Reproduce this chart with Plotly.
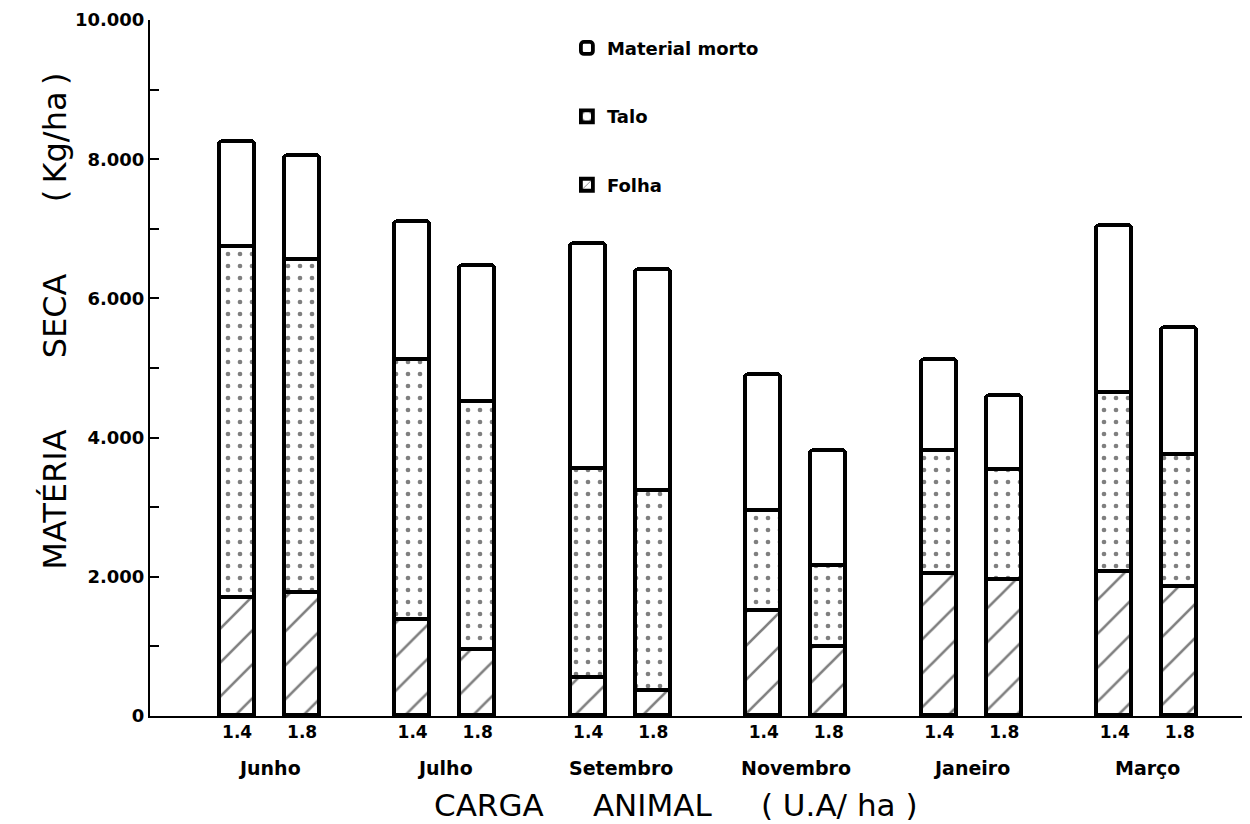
import numpy as np
import plotly.graph_objects as go

months = ["Junho", "Julho", "Setembro", "Novembro", "Janeiro", "Março"]
cargas = ["1.4", "1.8"]
# cumulative tops (kg/ha), order: month x carga
folha = [1700, 1770, 1380, 950, 550, 360, 1510, 990, 2040, 1950, 2070, 1850]
talo_top = [6740, 6550, 5110, 4510, 3550, 3230, 2950, 2160, 3810, 3530, 4640, 3750]
total_top = [8250, 8050, 7100, 6470, 6780, 6410, 4900, 3810, 5110, 4600, 7040, 5570]

folha = np.array(folha)
talo = np.array(talo_top) - folha
morto = np.array(total_top) - np.array(talo_top)

group_step = 2.7
xpos = np.array([g * group_step + j for g in range(len(months)) for j in range(len(cargas))])
xlabels = [c for _ in months for c in cargas]
FONT = "DejaVu Sans"
NB = "\u00a0"
TH = "\u2009"

fig = go.Figure()
common = dict(x=xpos, width=0.54, marker_line_color="black", marker_line_width=3.8)
fig.add_trace(go.Bar(name="Folha", y=folha, legendrank=3, legendgroup="c",
                     marker=dict(color="white", pattern=dict(shape="/", fgcolor="black", bgcolor="white",
                                                            size=24, solidity=0.11)), **common))
fig.add_trace(go.Bar(name="Talo", y=talo, legendrank=2, legendgroup="b",
                     marker=dict(color="white", pattern=dict(shape=".", fgcolor="black", bgcolor="white",
                                                            size=12, solidity=0.12)), **common))
fig.add_trace(go.Bar(name="Material morto", y=morto, legendrank=1, legendgroup="a",
                     marker=dict(color="white", cornerradius=4), **common))

ann = []
for g, m in enumerate(months):
    ann.append(dict(x=g * group_step + 0.5, y=-0.075, xref="x", yref="paper", text=m, showarrow=False,
                    font=dict(family=FONT, size=19, color="black", weight="bold"), yanchor="middle"))
ann.append(dict(x=0.478, y=-0.128, xref="paper", yref="paper",
                text="CARGA" + NB * 5 + "ANIMAL" + NB * 5 + "(" + NB + "U.A/" + NB + "ha" + NB + ")",
                showarrow=False, font=dict(family=FONT, size=31, color="black"), yanchor="middle"))
ann.append(dict(x=-0.086, y=0.207, xref="paper", yref="paper", textangle=-90,
                text="MATÉRIA" + NB * 7 + "SECA" + NB * 7 + "(" + TH + "Kg/ha" + TH + ")",
                showarrow=False, font=dict(family=FONT, size=32, color="black"),
                xanchor="center", yanchor="bottom"))

fig.update_layout(
    barmode="stack",
    width=1242, height=816,
    margin=dict(l=142, r=0, t=12, b=108),
    plot_bgcolor="white", paper_bgcolor="white",
    showlegend=True,
    legend=dict(x=0.379, y=0.986, xanchor="left", yanchor="top", traceorder="grouped",
                tracegroupgap=42, font=dict(family=FONT, size=18, color="black", weight="bold"),
                bgcolor="rgba(0,0,0,0)"),
    annotations=ann,
    bargap=0,
)
fig.update_xaxes(range=[-1.34, 15.58], tickvals=xpos, ticktext=xlabels, showline=True,
                 linecolor="black", linewidth=2, ticks="", showgrid=False, zeroline=False,
                 tickfont=dict(family=FONT, size=17, color="black", weight="bold"))
fig.update_yaxes(range=[0, 10000], tickvals=[0, 2000, 4000, 6000, 8000, 10000],
                 ticktext=["0", "2.000", "4.000", "6.000", "8.000", "10.000"],
                 showline=True, linecolor="black", linewidth=2, ticks="inside", ticklen=9,
                 tickwidth=2, tickcolor="black", showgrid=False, zeroline=False,
                 minor=dict(tickvals=[1000, 3000, 5000, 7000, 9000], ticks="inside", ticklen=9,
                            tickwidth=2, tickcolor="black"),
                 tickfont=dict(family=FONT, size=18, color="black", weight="bold"))

fig.write_html("out.html")
